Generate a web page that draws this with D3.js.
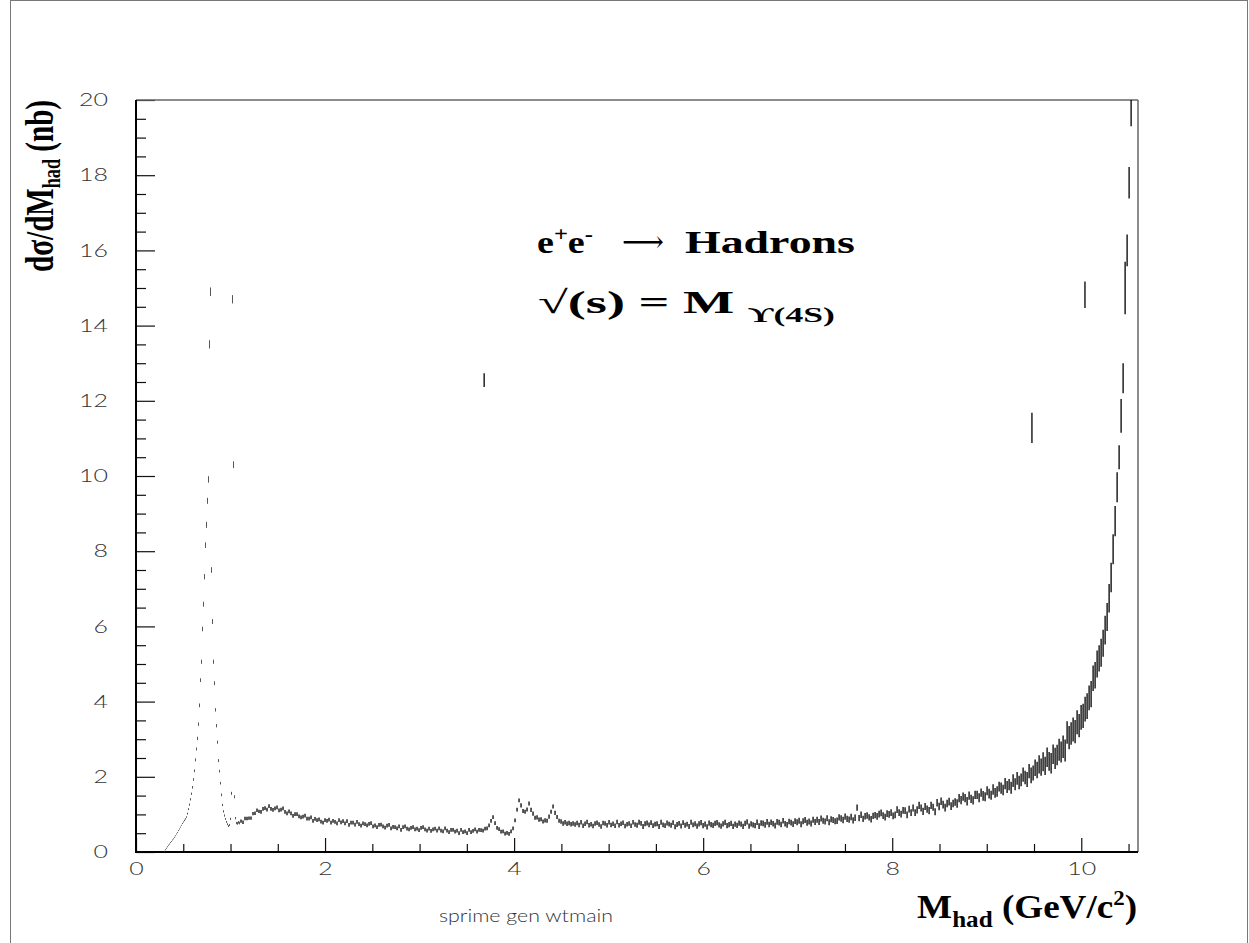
<!DOCTYPE html>
<html>
<head>
<meta charset="utf-8">
<script src="https://cdn.jsdelivr.net/npm/d3@7"></script>
<style>
  html, body { margin: 0; padding: 0; background: #fff; }
  svg { display: block; }
  .tick text, .note { font-family: Lato, "DejaVu Sans", sans-serif; font-weight: 300; font-size: 18px; fill: #333; }
  .tick line { stroke: #111; stroke-width: 1.2; }
  .serif { font-family: "Liberation Serif", "Times New Roman", serif; font-weight: bold; fill: #000; }
</style>
</head>
<body>
<svg id="chart" width="1249" height="943"></svg>
<script>
// 1000 bins from 0 up to sqrt(s) = M(Y4S)
const BIN_WIDTH = 10.58 / 1000;

// rho/omega and phi region, one histogram bin per point (bins 28..103)
const rhoFirstBin = 28;
const rhoValues = [
  0.02, 0.06, 0.10, 0.14, 0.18, 0.21, 0.25, 0.28, 0.32, 0.35,
  0.39, 0.43, 0.48, 0.52, 0.57, 0.61, 0.66, 0.71, 0.76, 0.80,
  0.84, 0.88, 0.93, 1.02, 1.14, 1.26, 1.40, 1.55, 1.72, 1.93,
  2.16, 2.45, 2.74, 3.02, 3.40, 3.90, 4.57, 5.06, 5.93, 6.59,
  7.32, 8.16, 8.70, 9.34, 9.91, 13.5, 14.9, 7.50, 6.13, 5.06,
  4.49, 3.78, 3.36, 2.92, 2.43, 2.15, 1.83, 1.52, 1.25, 1.08,
  0.97, 0.88, 0.80, 0.74, 0.69, 0.72, 0.88, 1.56, 14.7, 10.3,
  1.47, 0.90, 0.77, 0.76, 0.79, 0.77
];
const rhoErrors = [
  0.010, 0.010, 0.010, 0.010, 0.010, 0.010, 0.010, 0.010, 0.010, 0.010,
  0.012, 0.012, 0.012, 0.012, 0.012, 0.012, 0.012, 0.012, 0.015, 0.015,
  0.02, 0.02, 0.02, 0.025, 0.025, 0.03, 0.03, 0.03, 0.035, 0.035,
  0.035, 0.04, 0.04, 0.045, 0.045, 0.05, 0.05, 0.055, 0.06, 0.065,
  0.07, 0.075, 0.08, 0.08, 0.085, 0.11, 0.115, 0.075, 0.065, 0.055,
  0.05, 0.045, 0.045, 0.04, 0.04, 0.035, 0.035, 0.035, 0.03, 0.03,
  0.03, 0.025, 0.025, 0.025, 0.025, 0.025, 0.03, 0.04, 0.11, 0.09,
  0.04, 0.03, 0.03, 0.035, 0.035, 0.035
];

// continuum 1.10 - 3.64 GeV, two bins per point
const lowFirstBin = 104;
const lowValues = [
  0.82, 0.79, 0.89, 0.89, 0.90, 0.90, 1.02, 1.03, 1.11, 1.08,
  1.07, 1.15, 1.17, 1.13, 1.22, 1.15, 1.12, 1.16, 1.19, 1.11,
  1.13, 1.16, 1.07, 1.03, 1.08, 1.03, 0.96, 1.01, 1.01, 0.95,
  0.92, 0.94, 0.97, 0.89, 0.89, 0.92, 0.83, 0.88, 0.85, 0.87,
  0.81, 0.78, 0.85, 0.83, 0.86, 0.78, 0.83, 0.80, 0.76, 0.85,
  0.79, 0.82, 0.76, 0.82, 0.72, 0.78, 0.78, 0.73, 0.80, 0.74,
  0.70, 0.76, 0.74, 0.71, 0.75, 0.77, 0.68, 0.71, 0.66, 0.72,
  0.73, 0.68, 0.65, 0.70, 0.72, 0.63, 0.67, 0.66, 0.63, 0.68,
  0.59, 0.66, 0.68, 0.62, 0.60, 0.64, 0.66, 0.60, 0.62, 0.58,
  0.64, 0.66, 0.60, 0.57, 0.62, 0.56, 0.60, 0.62, 0.57, 0.63,
  0.57, 0.55, 0.63, 0.57, 0.53, 0.59, 0.59, 0.54, 0.57, 0.50,
  0.59, 0.53, 0.55, 0.50, 0.59, 0.53, 0.56, 0.60, 0.54, 0.59
];
const lowErrors = [0.045, 0.05, 0.05, 0.05, 0.05, 0.05, 0.05, 0.05, 0.05, 0.05, 0.05, 0.05];

// charmonium region 3.64 - 4.66 GeV
const charmFirstBin = 344;
const charmValues = [
  0.58, 0.57, 0.62, 0.63, 0.71, 0.83, 0.93, 0.77, 0.64, 0.61,
  0.54, 0.55, 0.49, 0.51, 0.48, 0.55, 0.63, 0.84, 1.13, 1.37,
  1.24, 1.09, 1.07, 1.13, 1.29, 1.12, 1.02, 0.91, 0.92, 0.86,
  0.87, 0.81, 0.84, 0.83, 0.94, 1.07, 1.21, 1.04, 0.93, 0.83,
  0.81, 0.76, 0.79, 0.75, 0.77, 0.74, 0.76, 0.73
];
const charmErrors = [0.05, 0.05, 0.055, 0.055, 0.06];

// continuum 4.66 - 8.89 GeV
const midFirstBin = 440;
const midValues = [
  0.77, 0.72, 0.79, 0.70, 0.75, 0.80, 0.71, 0.74, 0.69, 0.76,
  0.78, 0.73, 0.68, 0.77, 0.76, 0.71, 0.79, 0.72, 0.75, 0.70,
  0.80, 0.71, 0.75, 0.78, 0.69, 0.74, 0.76, 0.70, 0.79, 0.73,
  0.71, 0.79, 0.76, 0.68, 0.75, 0.77, 0.72, 0.78, 0.70, 0.74,
  0.75, 0.68, 0.79, 0.72, 0.70, 0.77, 0.74, 0.71, 0.78, 0.67,
  0.73, 0.76, 0.69, 0.78, 0.71, 0.74, 0.68, 0.79, 0.72, 0.75,
  0.69, 0.75, 0.78, 0.70, 0.74, 0.67, 0.77, 0.73, 0.71, 0.76,
  0.78, 0.72, 0.69, 0.75, 0.79, 0.70, 0.73, 0.76, 0.68, 0.74,
  0.71, 0.77, 0.74, 0.68, 0.76, 0.80, 0.69, 0.75, 0.72, 0.70,
  0.79, 0.69, 0.77, 0.76, 0.72, 0.80, 0.73, 0.79, 0.75, 0.70,
  0.80, 0.78, 0.73, 0.83, 0.75, 0.72, 0.81, 0.78, 0.74, 0.82,
  0.79, 0.83, 0.74, 0.82, 0.85, 0.78, 0.81, 0.76, 0.86, 0.80,
  0.86, 0.80, 0.89, 0.83, 0.81, 0.90, 0.79, 0.87, 0.85, 0.82,
  0.83, 0.92, 0.89, 0.85, 0.94, 0.88, 0.86, 0.93, 0.84, 0.91,
  1.18, 0.90, 0.99, 0.88, 0.95, 0.97, 0.92, 0.87, 0.96, 0.98,
  0.95, 1.01, 1.04, 0.97, 0.93, 1.02, 1.00, 1.05, 0.96, 0.99,
  1.13, 1.05, 1.01, 1.11, 1.10, 0.99, 1.14, 1.05, 1.17, 1.05,
  1.12, 1.24, 1.17, 1.08, 1.21, 1.14, 1.10, 1.24, 1.19, 1.07,
  1.31, 1.21, 1.35, 1.26, 1.18, 1.29, 1.34, 1.22, 1.29, 1.33,
  1.29, 1.43, 1.38, 1.47, 1.43, 1.35, 1.50, 1.41, 1.37, 1.52
];
const midErrors = [
  0.06, 0.06, 0.06, 0.065, 0.065, 0.065, 0.07, 0.07, 0.07, 0.075,
  0.075, 0.08, 0.08, 0.085, 0.085, 0.09, 0.09, 0.095, 0.10, 0.11
];

// radiative tail 8.89 - 10.58 GeV
const tailFirstBin = 840;
const tailValues = [
  1.52, 1.44, 1.58, 1.49, 1.47, 1.63, 1.55, 1.51, 1.66, 1.57,
  1.61, 1.74, 1.70, 1.65, 1.82, 1.73, 1.79, 1.71, 1.90, 1.80,
  1.96, 1.85, 1.92, 2.06, 1.98, 1.93, 2.15, 2.04, 2.10, 2.24,
  2.18, 2.33, 2.26, 2.40, 2.29, 2.52, 2.41, 2.36, 2.60, 2.49,
  2.58, 2.72, 2.66, 2.80, 2.70, 3.18, 3.04, 3.15, 3.26, 3.20,
  3.45, 3.36, 3.58, 3.62, 3.80, 3.88, 4.10, 4.20, 4.62, 4.70,
  5.00, 5.15, 5.30, 5.55, 5.90, 6.25, 6.75, 7.30, 8.05, 8.80,
  9.70, 10.50, 11.60, 12.60, 15.00, 16.00, 17.80, 19.80, 24.0, 32.0
];
const tailErrors = [
  0.11, 0.12, 0.11, 0.13, 0.12, 0.12, 0.13, 0.12, 0.14, 0.13,
  0.14, 0.13, 0.15, 0.14, 0.15, 0.16, 0.15, 0.16, 0.17, 0.16,
  0.17, 0.18, 0.17, 0.19, 0.18, 0.20, 0.19, 0.21, 0.20, 0.22,
  0.22, 0.24, 0.23, 0.25, 0.24, 0.26, 0.25, 0.27, 0.26, 0.28,
  0.27, 0.29, 0.28, 0.30, 0.29, 0.30, 0.31, 0.30, 0.32, 0.31,
  0.32, 0.31, 0.33, 0.32, 0.33, 0.34, 0.33, 0.35, 0.34, 0.35,
  0.36, 0.35, 0.37, 0.36, 0.38, 0.37, 0.38, 0.39, 0.40, 0.40,
  0.40, 0.32, 0.45, 0.40, 0.70, 0.42, 0.42, 0.50, 0.60, 0.80
];

// single heavy-weight bins standing above the spectrum
const spikeMass = [3.683, 9.478, 10.039];
const spikeValues = [12.55, 11.28, 14.82];
const spikeErrors = [0.18, 0.40, 0.35];

const xTickLabels = [0, 2, 4, 6, 8, 10];
const yTickLabels = [0, 2, 4, 6, 8, 10, 12, 14, 16, 18, 20];

const svg = d3.select("#chart");
const plotLeft = 136, plotRight = 1138, plotTop = 100, plotBottom = 852;

const x = d3.scaleLinear().domain([0, 10.6]).range([plotLeft, plotRight]);
const y = d3.scaleLinear().domain([0, 20]).range([plotBottom, plotTop]);

// page border
svg.append("rect")
  .attr("x", 10.5).attr("y", 0.5).attr("width", 1237).attr("height", 960)
  .attr("fill", "none").attr("stroke", "#777").attr("stroke-width", 1);

svg.append("defs").append("clipPath").attr("id", "plot-clip")
  .append("rect").attr("x", plotLeft).attr("y", plotTop)
  .attr("width", plotRight - plotLeft).attr("height", plotBottom - plotTop);

// axes: ticks point into the frame
const minorY = d3.range(0, 20.01, 0.5).filter(v => v % 2 !== 0);
const minorX = d3.range(0, 10.51, 0.5).filter(v => v % 2 !== 0);

svg.append("g").attr("transform", `translate(${plotLeft},0)`)
  .call(d3.axisLeft(y).tickValues(yTickLabels).tickSize(-19).tickPadding(28).tickFormat(d3.format("d")))
  .call(g => g.select(".domain").remove());
svg.append("g").attr("transform", `translate(${plotLeft},0)`)
  .call(d3.axisLeft(y).tickValues(minorY).tickSize(-10).tickFormat(() => ""))
  .call(g => g.select(".domain").remove());
svg.append("g").attr("transform", `translate(0,${plotBottom})`)
  .call(d3.axisBottom(x).tickValues(xTickLabels).tickSize(-14).tickPadding(10).tickFormat(d3.format("d")))
  .call(g => g.select(".domain").remove());
svg.append("g").attr("transform", `translate(0,${plotBottom})`)
  .call(d3.axisBottom(x).tickValues(minorX).tickSize(-8).tickFormat(() => ""))
  .call(g => g.select(".domain").remove());

// wide, thin digits like the original plotting package
svg.selectAll(".tick text")
  .attr("font-size", null)
  .attr("font-family", null)
  .each(function() {
    const t = d3.select(this);
    if (t.text().length) t.attr("textLength", 14.5 * t.text().length).attr("lengthAdjust", "spacingAndGlyphs");
  });

// frame
svg.append("line").attr("x1", plotLeft).attr("x2", plotRight).attr("y1", plotTop).attr("y2", plotTop)
  .attr("stroke", "#666").attr("stroke-width", 1.5);
svg.append("line").attr("x1", plotRight).attr("x2", plotRight).attr("y1", plotTop).attr("y2", plotBottom)
  .attr("stroke", "#666").attr("stroke-width", 1.5);
svg.append("line").attr("x1", plotLeft).attr("x2", plotLeft).attr("y1", plotTop).attr("y2", plotBottom + 1)
  .attr("stroke", "#000").attr("stroke-width", 2);
svg.append("line").attr("x1", plotLeft - 1).attr("x2", plotRight).attr("y1", plotBottom).attr("y2", plotBottom)
  .attr("stroke", "#000").attr("stroke-width", 2);

// histogram points: one vertical error bar per bin
function binPoints(firstBin, rebin, values, errors) {
  return values.map((v, i) => {
    const lo = (firstBin + i * rebin) * BIN_WIDTH;
    const e = errors.length === values.length ? errors[i] : errors[Math.floor(i / 10)];
    return { lo, hi: lo + rebin * BIN_WIDTH, v, e };
  });
}

const rhoPoints = binPoints(rhoFirstBin, 1, rhoValues, rhoErrors);
const bandPoints = [].concat(
  binPoints(lowFirstBin, 2, lowValues, lowErrors),
  binPoints(charmFirstBin, 2, charmValues, charmErrors),
  binPoints(midFirstBin, 2, midValues, midErrors),
  binPoints(tailFirstBin, 2, tailValues, tailErrors),
  spikeMass.map((m, i) => ({ lo: m - BIN_WIDTH / 2, hi: m + BIN_WIDTH / 2, v: spikeValues[i], e: spikeErrors[i] }))
);

const barPath = d => {
  const xc = x((d.lo + d.hi) / 2);
  let y1 = y(d.v + d.e), y2 = y(d.v - d.e);
  if (y2 - y1 < 1) { const m = (y1 + y2) / 2; y1 = m - 0.5; y2 = m + 0.5; }
  return `M${xc.toFixed(2)},${y1.toFixed(2)}V${y2.toFixed(2)}`;
};

const data = svg.append("g").attr("clip-path", "url(#plot-clip)").attr("fill", "none");
data.append("path").attr("d", rhoPoints.map(barPath).join(""))
  .attr("stroke", "#444").attr("stroke-width", 0.9);
data.append("path").attr("d", bandPoints.map(barPath).join(""))
  .attr("stroke", "#000").attr("stroke-width", 1.3);

// stretch a text element along its baseline to a measured length
function fitLength(sel, target, transformFn) {
  const k = target / sel.node().getComputedTextLength();
  sel.attr("transform", transformFn(k));
}

// y title
const yTitle = svg.append("text").attr("class", "serif").attr("font-size", 40).attr("text-anchor", "end");
yTitle.append("tspan").text("dσ/dM");
yTitle.append("tspan").attr("font-size", 25).attr("dy", 7).text("had");
yTitle.append("tspan").attr("dy", -7).text(" (nb)");
fitLength(yTitle, 172, k => `translate(53,100) rotate(-90) scale(${k},1)`);

// x title
const xTitle = svg.append("text").attr("class", "serif").attr("font-size", 34).attr("text-anchor", "end");
xTitle.append("tspan").text("M");
xTitle.append("tspan").attr("font-size", 23).attr("dy", 9).text("had");
xTitle.append("tspan").attr("dy", -9).text(" (GeV/c");
xTitle.append("tspan").attr("font-size", 21).attr("dy", -13).text("2");
xTitle.append("tspan").attr("dy", 13).text(")");
fitLength(xTitle, 220, k => `translate(1137,918) scale(${k},1)`);

// process label: e+e- , arrow, Hadrons
const beams = svg.append("text").attr("class", "serif").attr("font-size", 31);
beams.append("tspan").text("e");
beams.append("tspan").attr("font-size", 20).attr("dy", -12).text("+");
beams.append("tspan").attr("dy", 12).text("e");
beams.append("tspan").attr("font-size", 20).attr("dy", -12).text("-");
fitLength(beams, 56, k => `translate(537,253) scale(${k},1)`);

const arrow = svg.append("text").attr("font-family", "'DejaVu Serif', serif").attr("font-size", 30).text("\u27F6");
fitLength(arrow, 42, k => `translate(622,252) scale(${k},1)`);

const hadrons = svg.append("text").attr("class", "serif").attr("font-size", 31).text("Hadrons");
fitLength(hadrons, 170, k => `translate(685,253) scale(${k},1)`);

const line2 = svg.append("text").attr("class", "serif").attr("font-size", 32);
line2.append("tspan").attr("font-weight", "normal").text("\u221A");
line2.append("tspan").text("(s) = M ");
line2.append("tspan").attr("font-size", 21).attr("dy", 9).text("\u03D2(4S)");
fitLength(line2, 297, k => `translate(538,313) scale(${k},1)`);

// generator tag under the axis
const note = svg.append("text").attr("class", "note").attr("font-size", 21).text("sprime gen wtmain");
fitLength(note, 174, k => `translate(439,922) scale(${k},1)`);
</script>
</body>
</html>
